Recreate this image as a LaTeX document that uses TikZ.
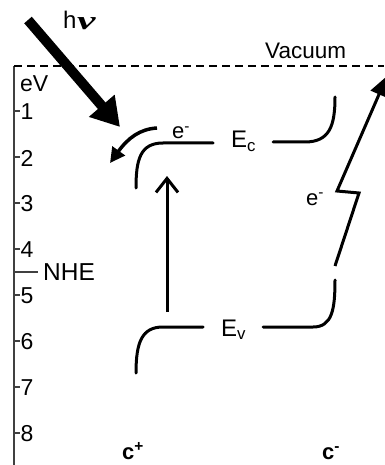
\documentclass[tikz,border=0pt]{standalone}
\usepackage{fontspec}
\setmainfont{Liberation Sans}
\newfontfamily\nufont{Liberation Serif}
\usetikzlibrary{arrows.meta}
\begin{document}
\begin{tikzpicture}[x=1pt,y=-1pt,
  lbl/.style={inner sep=0pt, font=\fontsize{22}{26}\selectfont},
  biglbl/.style={inner sep=0pt, font=\fontsize{24.5}{28}\selectfont},
  numlbl/.style={inner sep=0pt, font=\fontsize{23}{26}\selectfont},
  band/.style={line width=3pt, line cap=round},
  axisline/.style={line width=1.6pt, draw=black!75},
  vacline/.style={line width=2.6pt, dash pattern=on 8pt off 5pt},
  tickline/.style={line width=1.6pt, draw=black!75}]
\useasboundingbox (0,0) rectangle (384,465);
% axis and vacuum level
\coordinate (axtop) at (14,66);
\coordinate (axbot) at (14,465);
\coordinate (vacR) at (384,66);
\draw[axisline] (axtop) -- (axbot);
\draw[vacline] (axtop) -- (vacR);
\node[lbl, anchor=base west, font=\fontsize{22.5}{26}\selectfont] (vac) at (265,59) {Vacuum};
\node[numlbl, anchor=base west] (ev) at (20,92) {eV};
% ticks
\foreach \k in {1,...,8}{
  \coordinate (tk\k) at (14,65+46*\k);
  \draw[tickline] (tk\k) -- ++(6,0) coordinate (te\k);
  \node[numlbl, anchor=west] (tl\k) at ([xshift=0.5pt,yshift=-1pt]te\k) {\k};
}
\coordinate (nhe0) at (14,272);
\coordinate (nhe1) at (38,272);
\draw[tickline] (nhe0) -- (nhe1);
\node[biglbl, anchor=base west] (nhe) at (43,280) {NHE};
% h nu
\node[lbl, anchor=base west, font=\fontsize{24}{28}\selectfont] (h) at (63,29) {h};
\node[lbl, anchor=base west] (nu) at (77,30) {\scalebox{1.6}[1]{\nufont\fontsize{26}{28}\selectfont\bfseries\itshape ν}};
\coordinate (hvs) at (28,20);
\coordinate (hvt) at (120,127);
\draw[line width=10pt, -{Triangle[length=28pt,width=32pt]}] (hvs) -- (hvt);
% conduction band
\coordinate (ecl0) at (136,188);
\coordinate (ecl1) at (213,143);
\draw[band] (ecl0) .. controls (136,160) and (140,143) .. (163,143) -- (ecl1);
\node[biglbl, anchor=base west, font=\fontsize{24}{28}\selectfont] (Ec) at (231,148) {E\textsubscript{c}};
\coordinate (ecr0) at (273,142);
\coordinate (ecr1) at (335,97);
\draw[band] (ecr0) -- (305,142) .. controls (330,142) and (335,125) .. (ecr1);
% electron transfer arrow (curved)
\node[lbl, anchor=base west] (e1) at (172,139) {e\textsuperscript{-}};
\coordinate (ca0) at (157,128);
\coordinate (ca1) at (110,163);
\draw[line width=3.5pt, -{Triangle[length=15pt,width=15pt]}] (ca0) .. controls (140,129) and (128,138) .. (ca1);
% excitation arrow
\coordinate (va0) at (167,312);
\coordinate (va1) at (167,176);
\draw[line width=3pt, -{Straight Barb[length=14pt,width=22pt,line width=3pt]}] (va0) -- (va1);
% valence band
\coordinate (evl0) at (136,373);
\coordinate (evl1) at (203,327);
\draw[band] (evl0) .. controls (136,342) and (142,327) .. (163,327) -- (evl1);
\node[biglbl, anchor=base west, font=\fontsize{24}{28}\selectfont] (Ev) at (221,336) {E\textsubscript{v}};
\coordinate (evr0) at (263,327);
\coordinate (evr1) at (335,280);
\draw[band] (evr0) -- (313,327) .. controls (332,327) and (335,310) .. (evr1);
% zigzag arrow to vacuum
\coordinate (z0) at (335,266);
\coordinate (z1) at (359,193);
\coordinate (z2) at (337,191);
\coordinate (z3) at (387,76);
\draw[line width=3pt, -{Triangle[length=20pt,width=18pt]}] (z0) -- (z1) -- (z2) -- (z3);
\node[lbl, anchor=base west] (e2) at (306,205) {e\textsuperscript{-}};
% sides
\node[lbl, anchor=base west] (cp) at (122,459) {\bfseries c\textsuperscript{+}};
\node[lbl, anchor=base west] (cm) at (322,459) {\bfseries c\textsuperscript{-}};
\end{tikzpicture}
\end{document}
